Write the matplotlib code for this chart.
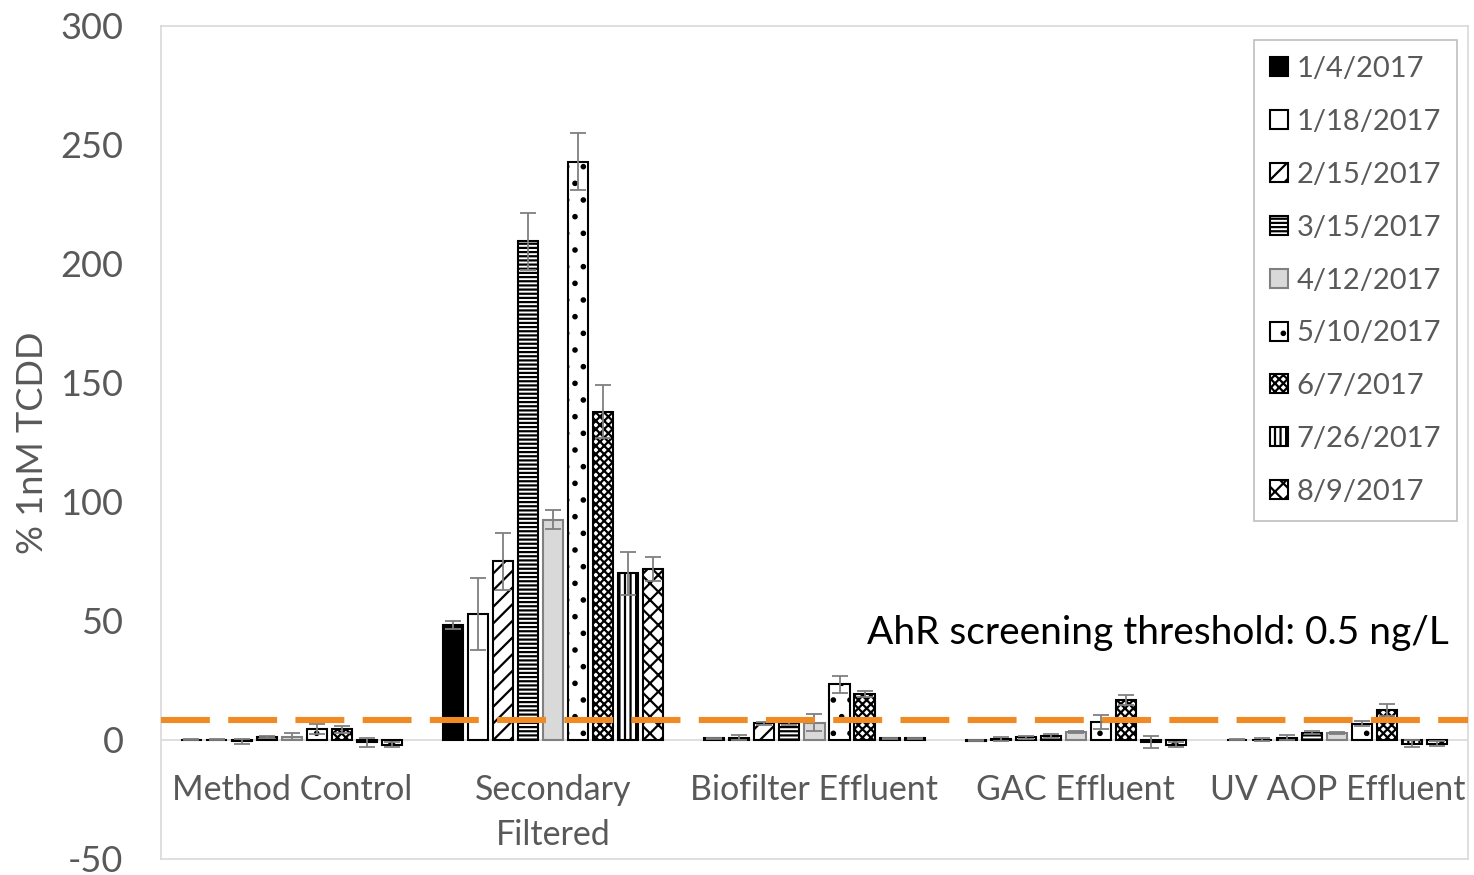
import matplotlib
matplotlib.use("Agg")
import matplotlib.pyplot as plt
import numpy as np

# data
groups = ["Method Control", "Secondary\nFiltered", "Biofilter Effluent",
          "GAC Effluent", "UV AOP Effluent"]
dates = ["1/4/2017", "1/18/2017", "2/15/2017", "3/15/2017", "4/12/2017",
         "5/10/2017", "6/7/2017", "7/26/2017", "8/9/2017"]

# one row per date, one column per group
values = [
    [0.2, 48.3, 0.7, -0.3, 0.2],
    [0.2, 53.0, 1.0, 0.4, 0.2],
    [-0.5, 75.0, 7.0, 1.1, 1.0],
    [1.3, 209.5, 7.0, 1.8, 3.1],
    [1.3, 92.5, 7.3, 3.3, 2.9],
    [4.7, 243.0, 23.4, 7.6, 6.9],
    [4.5, 138.0, 19.2, 16.9, 12.5],
    [-1.0, 70.0, 0.7, -1.0, -1.5],
    [-2.0, 72.0, 0.7, -2.0, -1.5],
]
errors = [
    [0.3, 1.5, 0.3, 0.3, 0.3],
    [0.3, 15.0, 1.2, 1.0, 0.5],
    [1.0, 12.0, 0.5, 0.5, 1.0],
    [0.5, 12.0, 0.5, 0.8, 0.6],
    [1.5, 4.0, 3.5, 0.5, 0.5],
    [2.0, 12.0, 3.6, 3.0, 1.0],
    [1.5, 11.0, 1.2, 2.0, 2.5],
    [2.0, 9.0, 0.3, 2.5, 1.5],
    [1.0, 5.0, 0.3, 1.0, 1.0],
]
threshold = 8.4

faces = ["black", "white", "white", "white", "#d9d9d9",
         "white", "white", "white", "white"]
edges = ["black", "black", "black", "black", "#808080",
         "black", "black", "black", "black"]
hatches = [None, None, "//", "----", None, ".", "xxxx", "|||", "xx"]

plt.rcParams["font.family"] = ["Lato", "DejaVu Sans"]
plt.rcParams["axes.unicode_minus"] = False
plt.rcParams["hatch.linewidth"] = 1.6
gray = "#595959"

fig = plt.figure(figsize=(14.74, 8.75), dpi=100)
ax = fig.add_axes([0.1092, 0.0183, 0.8867, 0.952])

x = np.arange(len(groups))
step = 0.0958
width = 0.077
for i, d in enumerate(dates):
    pos = x + (i - 4) * step
    ax.bar(pos, values[i], width, yerr=errors[i], color=faces[i],
           edgecolor=edges[i], linewidth=1.5, hatch=hatches[i], label=d,
           error_kw=dict(ecolor="#7f7f7f", elinewidth=1.3, capsize=6,
                         capthick=1.3), zorder=2)

ax.axhline(0, color="#d9d9d9", linewidth=1.2, zorder=1)
ax.axhline(threshold, color="#f08a24", linewidth=4.4, dashes=(8, 3), zorder=3)
ax.text(4.425, 45, "AhR screening threshold: 0.5 ng/L", fontsize=28,
        ha="right", va="center", color="black")

ax.set_xlim(-0.5, 4.5)
ax.set_ylim(-50, 300)
ax.set_yticks(range(-50, 301, 50))
ax.set_xticks([])
ax.tick_params(axis="y", length=0, labelsize=26, labelcolor=gray, pad=27)
for s in ax.spines.values():
    s.set_color("#d9d9d9")
    s.set_linewidth(1.2)
ax.set_ylabel("% 1nM TCDD", fontsize=26, color=gray, labelpad=8)

for xi, g in zip(x, groups):
    ax.text(xi, -14.5, g, ha="center", va="top", fontsize=24.5, color=gray,
            linespacing=1.5)

leg = ax.legend(loc="upper right", bbox_to_anchor=(0.9916, 0.983),
                borderaxespad=0, fontsize=21, handlelength=0.62,
                handleheight=0.62, handletextpad=0.3, labelspacing=0.92,
                borderpad=0.55, fancybox=False, framealpha=1, labelcolor=gray)
leg.get_frame().set_edgecolor("#bfbfbf")
leg.get_frame().set_linewidth(1.2)

fig.savefig("out.png", dpi=100)
